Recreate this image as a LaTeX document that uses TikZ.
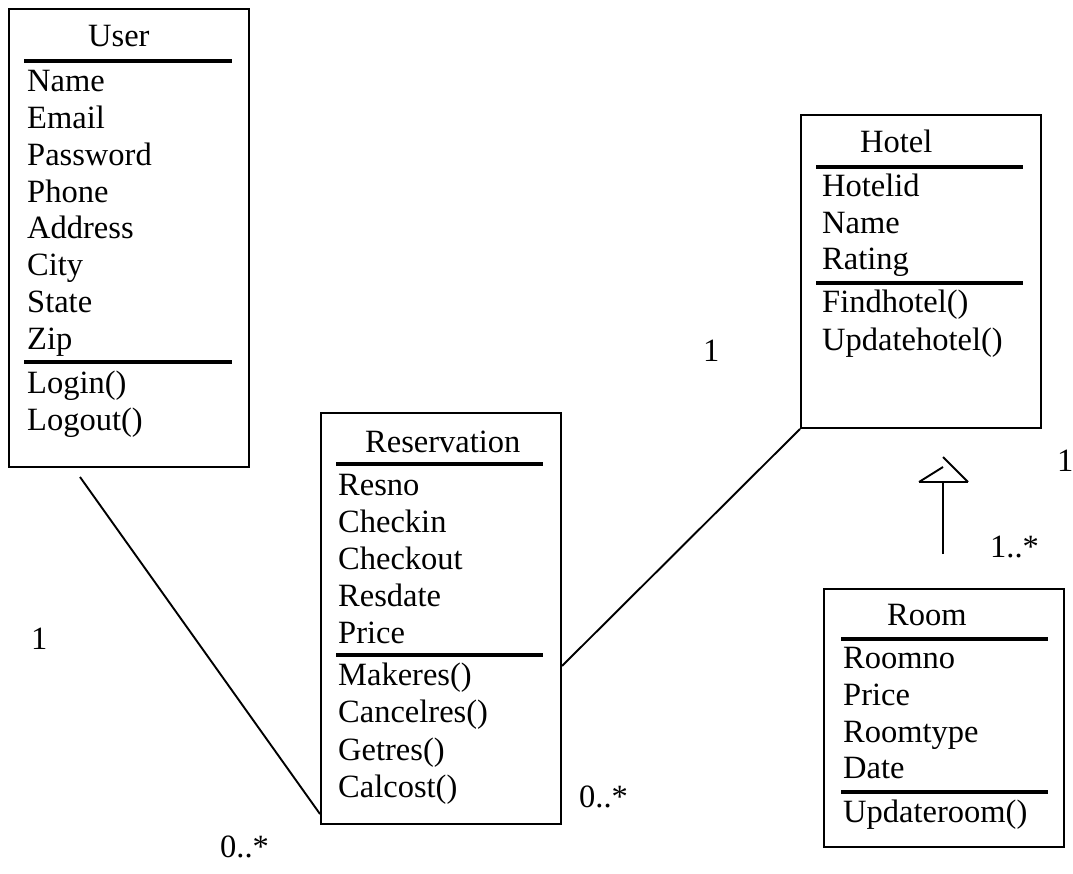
\documentclass[tikz,border=0pt]{standalone}
\usepackage{fontspec}
\setmainfont{Liberation Serif}
\begin{document}
\begin{tikzpicture}[x=1pt,y=-1pt,
  cls/.style={draw, line width=2pt, inner sep=0pt, anchor=north west},
  sep/.style={line width=4pt},
  link/.style={line width=1.9pt},
  txt/.style={anchor=base west, inner sep=0pt, font=\fontsize{32.5}{39}\selectfont}]
\useasboundingbox (0,0) rectangle (1073,874);

% ---- User ----
\node[cls, minimum width=240pt, minimum height=458pt] (user) at (8,8) {};
\draw[sep] (24,61) -- (232,61);
\draw[sep] (24,362) -- (232,362);
\node[txt] (uT) at (88,47) {User};
\node[txt] (u1) at (27,92) {Name};
\node[txt] (u2) at (27,128.7) {Email};
\node[txt] (u3) at (27,165.4) {Password};
\node[txt] (u4) at (27,202.1) {Phone};
\node[txt] (u5) at (27,238.9) {Address};
\node[txt] (u6) at (27,275.6) {City};
\node[txt] (u7) at (27,312.3) {State};
\node[txt] (u8) at (27,349) {Zip};
\node[txt] (u9) at (27,393) {Login()};
\node[txt] (u10) at (27,430) {Logout()};

% ---- Reservation ----
\node[cls, minimum width=240pt, minimum height=411pt] (res) at (320,412) {};
\draw[sep] (336,464) -- (543,464);
\draw[sep] (336,655) -- (543,655);
\node[txt] (rT) at (365,452) {Reservation};
\node[txt] (r1) at (338,495) {Resno};
\node[txt] (r2) at (338,532) {Checkin};
\node[txt] (r3) at (338,569) {Checkout};
\node[txt] (r4) at (338,606) {Resdate};
\node[txt] (r5) at (338,643) {Price};
\node[txt] (r6) at (338,685) {Makeres()};
\node[txt] (r7) at (338,722) {Cancelres()};
\node[txt] (r8) at (338,760) {Getres()};
\node[txt] (r9) at (338,797) {Calcost()};

% ---- Hotel ----
\node[cls, minimum width=240pt, minimum height=313pt] (hotel) at (800,114) {};
\draw[sep] (816,167) -- (1023,167);
\draw[sep] (816,283) -- (1023,283);
\node[txt] (hT) at (860,153) {Hotel};
\node[txt] (h1) at (822,197) {Hotelid};
\node[txt] (h2) at (822,234) {Name};
\node[txt] (h3) at (822,270) {Rating};
\node[txt] (h4) at (822,313) {Findhotel()};
\node[txt] (h5) at (822,350) {Updatehotel()};

% ---- Room ----
\node[cls, minimum width=240pt, minimum height=258pt] (room) at (823,588) {};
\draw[sep] (841,639) -- (1048,639);
\draw[sep] (841,792) -- (1048,792);
\node[txt] (mT) at (887,625) {Room};
\node[txt] (m1) at (843,668) {Roomno};
\node[txt] (m2) at (843,705) {Price};
\node[txt] (m3) at (843,742) {Roomtype};
\node[txt] (m4) at (843,778) {Date};
\node[txt] (m5) at (843,822) {Updateroom()};

% ---- associations ----
\coordinate (userEnd) at (80,477);
\draw[link] (userEnd) -- ([yshift=11pt]res.south west);
\draw[link] ([yshift=-47.5pt]res.east) -- (hotel.south west);

% ---- generalisation Room -> Hotel ----
\coordinate (genLow) at (943,554);
\coordinate (genBase) at (943,482);
\coordinate (triL) at (919,482);
\coordinate (triR) at (968,482);
\coordinate (triMid) at (943,467);
\coordinate (triTop) at (943,457);
\draw[link] (genLow) -- (genBase);
\draw[link] (triL) -- (triR);
\draw[link] (triL) -- (triMid);
\draw[link] (triTop) -- (triR);

% ---- multiplicities ----
\node[txt] (m_hotel) at (703,362) {1};
\node[txt] (m_hotel2) at (1057,471) {1};
\node[txt] (m_room) at (990,557) {1..*};
\node[txt] (m_user) at (31,649) {1};
\node[txt] (m_res1) at (220,857) {0..*};
\node[txt] (m_res2) at (579,807) {0..*};
\end{tikzpicture}
\end{document}
